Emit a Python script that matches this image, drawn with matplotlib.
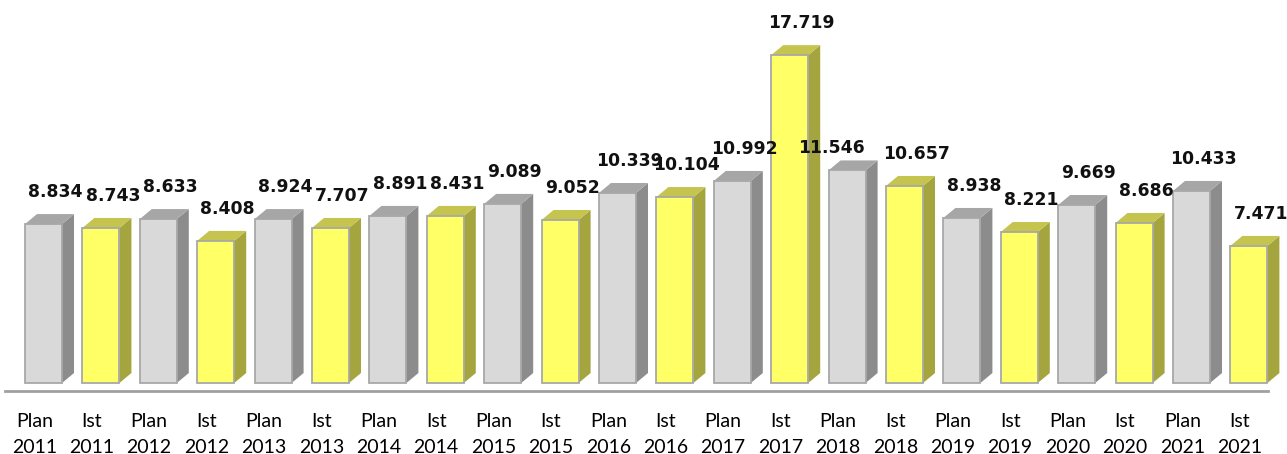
import matplotlib.pyplot as plt
from matplotlib.patches import Polygon
import numpy as np

# categories (Plan / Ist per year)
years = [2011, 2012, 2013, 2014, 2015, 2016, 2017, 2018, 2019, 2020, 2021]
kinds = ['Plan', 'Ist']
categories = [f'{k}\n{y}' for y in years for k in kinds]

# bar heights as drawn in the chart
heights = [8.59, 8.38, 8.86, 7.68, 8.86, 8.38, 9.03, 9.03, 9.68, 8.81, 10.27,
           10.05, 10.92, 17.72, 11.49, 10.65, 8.92, 8.16, 9.62, 8.65, 10.38, 7.41]

# value labels as printed on the chart
value_labels = ['8.834', '8.743', '8.633', '8.408', '8.924', '7.707', '8.891',
                '8.431', '9.089', '9.052', '10.339', '10.104', '10.992', '17.719',
                '11.546', '10.657', '8.938', '8.221', '9.669', '8.686', '10.433', '7.471']

# colours per kind: front, top, side
face_colors = {'Plan': ('#d9d9d9', '#a6a6a6', '#8c8c8c'),
               'Ist': ('#ffff66', '#c4c44e', '#a5a540')}

fig = plt.figure(figsize=(12.87, 4.54), dpi=100)
ax = fig.add_axes([5 / 1287, 63 / 454, 1263 / 1287, 391 / 454])

pos = np.arange(len(heights))
width = 0.645
dx, dy = 0.209, 0.54

for i, (x, h) in enumerate(zip(pos, heights)):
    front, top, side = face_colors[kinds[i % 2]]
    ax.bar(x, h, width=width, color=front, edgecolor='#a8a8a8', linewidth=1.3,
           zorder=3, clip_on=False)
    xr = x + width / 2
    xl = x - width / 2
    ax.add_patch(Polygon([(xr, 0), (xr + dx, dy), (xr + dx, h + dy), (xr, h)],
                         closed=True, facecolor=side, edgecolor='none', zorder=2,
                         clip_on=False))
    ax.add_patch(Polygon([(xl, h), (xl + dx, h + dy), (xr + dx, h + dy), (xr, h)],
                         closed=True, facecolor=top, edgecolor='none', zorder=2,
                         clip_on=False))

# value labels (one sits lower, next to the 2017 bar)
nudges = {14: (-16, 22)}
for i, (x, h) in enumerate(zip(pos, heights)):
    ox, oy = nudges.get(i, (12, 32))
    ax.annotate(value_labels[i], (x, h), xytext=(ox, oy), textcoords='offset pixels',
                ha='center', va='center', fontsize=12.4, fontweight='bold',
                family='DejaVu Sans', color='#111111', zorder=5, annotation_clip=False)

ax.set_xlim(-0.6707, 21.3328)
ax.set_ylim(-0.432, 20.70)
ax.set_xticks(pos - 0.16)
ax.set_xticklabels(categories, fontsize=14, family='Lato', linespacing=1.6)
ax.tick_params(axis='x', length=0, pad=16)
ax.set_yticks([])
for s in ['top', 'left', 'right']:
    ax.spines[s].set_visible(False)
ax.spines['bottom'].set_color('#a0a0a0')
ax.spines['bottom'].set_linewidth(2)
ax.patch.set_alpha(0)

fig.savefig('out.png', dpi=100)
